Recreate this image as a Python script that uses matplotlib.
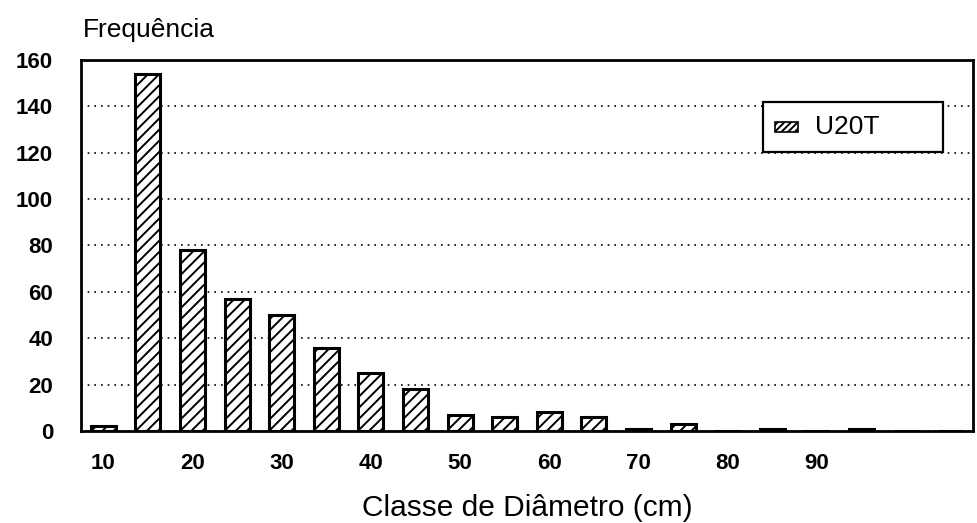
import matplotlib
matplotlib.use("Agg")
import matplotlib.pyplot as plt
from matplotlib.patches import Rectangle

plt.rcParams["font.family"] = ["Liberation Sans", "DejaVu Sans"]
plt.rcParams["hatch.linewidth"] = 1.4

# diameter classes (cm) and tree counts for U20T
CLASSES = [10, 15, 20, 25, 30, 35, 40, 45, 50, 55, 60, 65, 70, 75, 80, 85, 90, 95, 100, 105]
COUNTS = [2, 154, 78, 57, 50, 36, 25, 18, 7, 6, 8, 6, 1, 3, 0, 1, 0, 1, 0, 0]
TICKS = [10, 20, 30, 40, 50, 60, 70, 80, 90]
SERIES = "U20T"

fig = plt.figure(figsize=(9.78, 5.23), dpi=100)
ax = fig.add_axes([0.0828, 0.1759, 0.9121, 0.7094])

ax.bar(CLASSES, COUNTS, width=5 * 0.56, color="white", edgecolor="black",
       linewidth=2.2, hatch="///", zorder=3)

ax.set_xlim(7.5, 107.5)
ax.set_ylim(0, 160)
ax.set_yticks(range(0, 161, 20))
ax.set_xticks(TICKS)
ax.tick_params(length=0, labelsize=16)
ax.tick_params(axis="y", pad=20)
ax.tick_params(axis="x", pad=16)
for lab in ax.get_xticklabels() + ax.get_yticklabels():
    lab.set_fontweight("bold")

ax.yaxis.grid(True, color="black", linestyle=(0, (1, 3)), linewidth=1.2, zorder=1)
for s in ax.spines.values():
    s.set_linewidth(2)

ax.set_xlabel("Classe de Diâmetro (cm)", fontsize=21.5, labelpad=14)
fig.text(83 / 978, (523 - 37) / 523, "Frequência", fontsize=19, ha="left", va="baseline")

# legend box drawn by hand so its padding matches the original
ax.add_patch(Rectangle((0.7646, 0.752), 0.2018, 0.1348, transform=ax.transAxes,
                       facecolor="white", edgecolor="black", linewidth=1.6, zorder=5))
ax.add_patch(Rectangle((0.7780, 0.806), 0.0258, 0.027, transform=ax.transAxes,
                       facecolor="white", edgecolor="black", linewidth=1.2,
                       hatch="/////", zorder=6))
ax.text(0.8229, 0.8194, SERIES, transform=ax.transAxes, fontsize=19,
        ha="left", va="center", zorder=6)

fig.savefig("out.png", dpi=100)
